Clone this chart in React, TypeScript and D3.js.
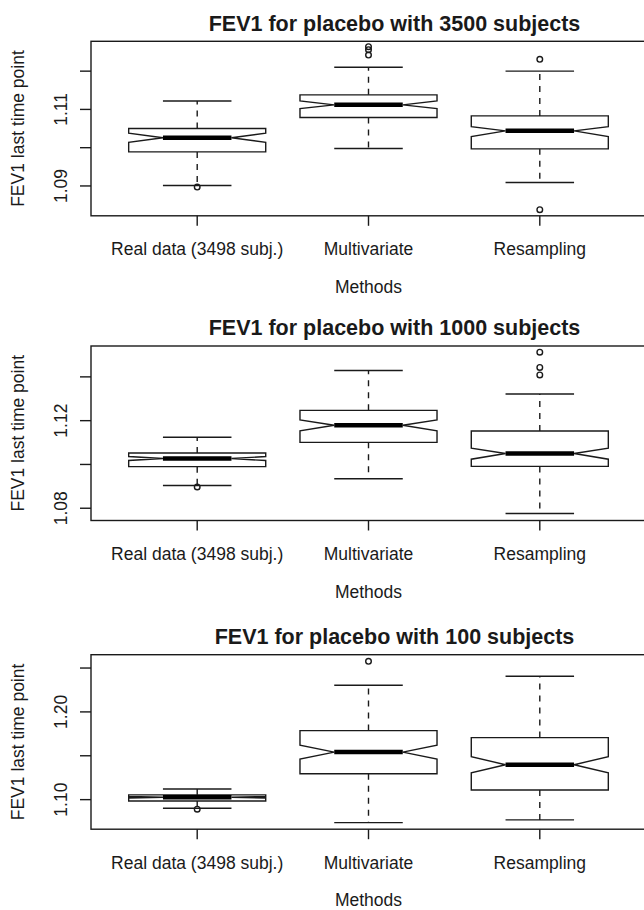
import React, { useRef, useEffect } from "react";
import * as d3 from "d3";

// Categories and titles
const methods = ["Real data (3498 subj.)", "Multivariate", "Resampling"];
const panelTitles = [
  "FEV1 for placebo with 3500 subjects",
  "FEV1 for placebo with 1000 subjects",
  "FEV1 for placebo with 100 subjects",
];

// Box statistics per panel, one entry per method
// [lower whisker, Q1, notch low, median, notch high, Q3, upper whisker]
const stats3500 = [
  [1.0901, 1.0989, 1.1014, 1.1026, 1.1038, 1.105, 1.1122],
  [1.0998, 1.1079, 1.1102, 1.1112, 1.1122, 1.1138, 1.121],
  [1.0909, 1.0997, 1.1029, 1.1044, 1.1055, 1.1083, 1.12],
];
const stats1000 = [
  [1.0904, 1.099, 1.1018, 1.1027, 1.1036, 1.1052, 1.1124],
  [1.0935, 1.1101, 1.1154, 1.1179, 1.1203, 1.1247, 1.1429],
  [1.0776, 1.0991, 1.1024, 1.105, 1.1074, 1.1153, 1.1322],
];
const stats100 = [
  [1.0902, 1.0985, 1.1018, 1.1027, 1.1036, 1.1054, 1.1122],
  [1.0738, 1.1295, 1.1462, 1.1542, 1.1622, 1.1787, 1.2304],
  [1.0769, 1.111, 1.1306, 1.1398, 1.1489, 1.1707, 1.2406],
];

// Outliers per panel, per method
const outliers3500 = [[1.0897], [1.1242, 1.1256, 1.1264], [1.0838, 1.1231]];
const outliers1000 = [[1.0897], [], [1.1409, 1.1443, 1.1513]];
const outliers100 = [[1.0891], [1.2576], []];

// Axis limits and ticks per panel
const yLimits = [
  [1.0822, 1.1278],
  [1.0744, 1.1541],
  [1.0663, 1.2652],
];
const yTicks = [
  [1.09, 1.1, 1.11, 1.12],
  [1.08, 1.1, 1.12, 1.14],
  [1.1, 1.15, 1.2, 1.25],
];
const yTickLabels = [
  ["1.09", "", "1.11", ""],
  ["1.08", "", "1.12", ""],
  ["1.10", "", "1.20", ""],
];

const yLabel = "FEV1 last time point";
const xLabel = "Methods";

export default function App() {
  const svgRef = useRef<SVGSVGElement>(null);

  useEffect(() => {
    const W = 644;
    const H = 910;
    const svg = d3.select(svgRef.current).attr("width", W).attr("height", H);
    svg.selectAll("*").remove();

    const font = "'Liberation Sans', Arial, Helvetica, sans-serif";
    const ink = "#1a1a1a";
    const lw = 1.4;

    const panelTops = [41.3, 346, 654.7];
    const plotH = 174.5;
    const left = 91;
    const right = 646;

    const allStats = [stats3500, stats1000, stats100];
    const allOutliers = [outliers3500, outliers1000, outliers100];

    // R style x range: 0.5 .. n+0.5 padded by 4%
    const x = d3.scaleLinear().domain([0.38, 3.62]).range([left, right]);
    const boxHalf = x(1.4) - x(1);
    const stapleHalf = boxHalf / 2;

    panelTitles.forEach((title, p) => {
      const top = panelTops[p];
      const bottom = top + plotH;
      const y = d3.scaleLinear().domain(yLimits[p]).range([bottom, top]);
      const g = svg.append("g");

      // Title
      g.append("text")
        .attr("x", 394.5)
        .attr("y", top - 10.8)
        .attr("text-anchor", "middle")
        .style("font-family", font)
        .style("font-weight", "bold")
        .style("font-size", "21.5px")
        .attr("fill", ink)
        .text(title);

      // Y axis ticks
      yTicks[p].forEach((t, i) => {
        g.append("line")
          .attr("x1", left - 11).attr("x2", left)
          .attr("y1", y(t)).attr("y2", y(t))
          .attr("stroke", ink).attr("stroke-width", lw);
        if (yTickLabels[p][i]) {
          g.append("text")
            .attr("transform", `translate(67,${y(t)}) rotate(-90)`)
            .attr("text-anchor", "middle")
            .style("font-family", font)
            .style("font-size", "17.5px")
            .attr("fill", ink)
            .text(yTickLabels[p][i]);
        }
      });

      // Y label
      g.append("text")
        .attr("transform", `translate(24,${(top + bottom) / 2}) rotate(-90)`)
        .attr("text-anchor", "middle")
        .style("font-family", font)
        .style("font-size", "17.5px")
        .attr("fill", ink)
        .text(yLabel);

      // X ticks and labels
      methods.forEach((m, i) => {
        const cx = x(i + 1);
        g.append("line")
          .attr("x1", cx).attr("x2", cx)
          .attr("y1", bottom).attr("y2", bottom + 10)
          .attr("stroke", ink).attr("stroke-width", lw);
        g.append("text")
          .attr("x", cx)
          .attr("y", bottom + 39.3)
          .attr("text-anchor", "middle")
          .style("font-family", font)
          .style("font-size", "17.5px")
          .attr("fill", ink)
          .text(m);
      });

      g.append("text")
        .attr("x", (left + right) / 2)
        .attr("y", bottom + 77)
        .attr("text-anchor", "middle")
        .style("font-family", font)
        .style("font-size", "17.5px")
        .attr("fill", ink)
        .text(xLabel);

      // Boxes
      allStats[p].forEach((s, i) => {
        const [wLo, q1, nLo, med, nHi, q3, wHi] = s;
        const cx = x(i + 1);

        // whiskers (dashed) and staples
        [[q3, wHi], [q1, wLo]].forEach(([a, b]) => {
          g.append("line")
            .attr("x1", cx).attr("x2", cx)
            .attr("y1", y(a)).attr("y2", y(b))
            .attr("stroke", ink).attr("stroke-width", lw)
            .attr("stroke-dasharray", "6,6");
          g.append("line")
            .attr("x1", cx - stapleHalf).attr("x2", cx + stapleHalf)
            .attr("y1", y(b)).attr("y2", y(b))
            .attr("stroke", ink).attr("stroke-width", lw);
        });

        // notched box
        const pts: [number, number][] = [
          [cx - boxHalf, y(q1)],
          [cx - boxHalf, y(nLo)],
          [cx - boxHalf / 2, y(med)],
          [cx - boxHalf, y(nHi)],
          [cx - boxHalf, y(q3)],
          [cx + boxHalf, y(q3)],
          [cx + boxHalf, y(nHi)],
          [cx + boxHalf / 2, y(med)],
          [cx + boxHalf, y(nLo)],
          [cx + boxHalf, y(q1)],
        ];
        g.append("path")
          .attr("d", d3.line()(pts) + "Z")
          .attr("fill", "white")
          .attr("stroke", ink)
          .attr("stroke-width", lw)
          .attr("stroke-linejoin", "miter");

        // median
        g.append("line")
          .attr("x1", cx - boxHalf / 2).attr("x2", cx + boxHalf / 2)
          .attr("y1", y(med)).attr("y2", y(med))
          .attr("stroke", "#000").attr("stroke-width", 4.5);

        // outliers
        allOutliers[p][i].forEach((o) => {
          g.append("circle")
            .attr("cx", cx).attr("cy", y(o)).attr("r", 2.8)
            .attr("fill", "none")
            .attr("stroke", ink).attr("stroke-width", lw);
        });
      });

      // Frame
      g.append("rect")
        .attr("x", left).attr("y", top)
        .attr("width", right - left).attr("height", plotH)
        .attr("fill", "none")
        .attr("stroke", ink).attr("stroke-width", lw);
    });
  }, []);

  return (
    <svg
      ref={svgRef}
      style={{ position: "absolute", left: 0, top: 0, background: "white" }}
    ></svg>
  );
}
